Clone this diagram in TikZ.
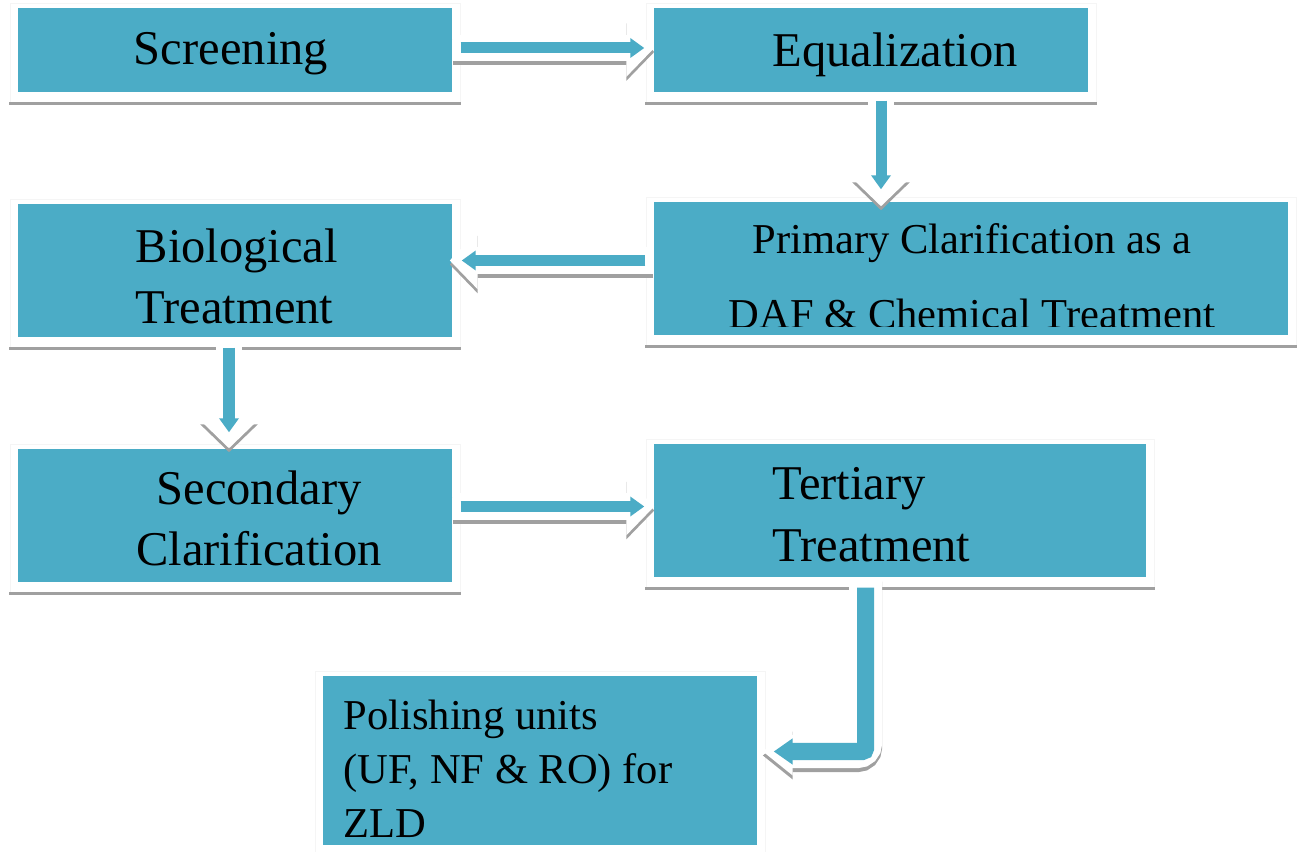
\documentclass[tikz,border=0pt]{standalone}
\usepackage{fontspec}
\setmainfont{Liberation Serif}
\usetikzlibrary{arrows.meta,positioning}

\newlength\px
\setlength\px{0.01cm}
\definecolor{boxteal}{RGB}{75,172,198}
\definecolor{shadegray}{RGB}{160,160,160}

\tikzset{
  stage/.style={fill=boxteal, inner sep=0pt},
  boxframe/.style={draw=black!4, line width=1\px},
  boxshadow/.style={draw=shadegray, line width=3.5\px},
  bigtxt/.style={inner sep=0pt, font=\fontsize{13.8}{17.4}\selectfont},
  smalltxt/.style={inner sep=0pt, font=\fontsize{12.1}{15.4}\selectfont},
  wideflow/.style={draw=white, line width=0.26cm, -{Triangle[length=0.28cm,width=0.56cm]}},
  wideshade/.style={wideflow, draw=shadegray, transform canvas={yshift=-0.04cm}},
  flow/.style={draw=boxteal, line width=0.11cm, -{Triangle[length=0.14cm,width=0.19cm]}},
  bendflow/.style={line width=0.33cm, rounded corners=0.08cm, -{Triangle[length=0.30cm,width=0.46cm]}},
}

\begin{document}
\begin{tikzpicture}[x=1\px, y=-1\px]
  \useasboundingbox (0,0) rectangle (1300,852);

  % the seven stages
  \node[stage, minimum width=434\px, minimum height=84\px] (scr) at (235,50) {};
  \node[stage, minimum width=434\px, minimum height=84\px] (equ) at (871,50) {};
  \node[stage, minimum width=634\px, minimum height=133\px] (pri) at (971,268.5) {};
  \node[stage, minimum width=434\px, minimum height=133\px] (bio) at (235,270.5) {};
  \node[stage, minimum width=434\px, minimum height=133\px] (sec) at (235,515.5) {};
  \node[stage, minimum width=492\px, minimum height=133\px] (ter) at (900,510.5) {};
  \node[stage, minimum width=434\px, minimum height=169\px] (pol) at (540,760.5) {};

  % white frame and grey line under each stage
  \foreach \b in {scr,equ,pri,bio,sec,ter,pol} {
    \draw[boxframe] ([shift={(-7,-4)}]\b.north west) rectangle ([shift={(8,10)}]\b.south east);
    \draw[boxshadow] ([shift={(-8,11)}]\b.south west) -- ([shift={(8,11)}]\b.south east);
  }

  % texts
  \node[bigtxt, anchor=north] (scr-t) at (231,32) {Screening};
  \node[bigtxt, anchor=north] (equ-t) at (895,32) {Equalization};
  \begin{scope}
    \clip (pri.north west) rectangle ([yshift=9\px]pri.south east);
    \node[smalltxt, font=\fontsize{12.1}{21.3}\selectfont, align=center, anchor=north] (pri-t) at (972,223)
      {Primary Clarification as a\\DAF \& Chemical Treatment};
  \end{scope}
  \node[bigtxt, align=left, anchor=north west] (bio-t) at (135,228) {Biological\\Treatment};
  \node[bigtxt, align=center, anchor=north] (sec-t) at (259,470) {Secondary\\Clarification};
  \node[bigtxt, align=left, anchor=north west] (ter-t) at (772,467) {Tertiary\\Treatment};
  \node[smalltxt, align=left, anchor=north west] (pol-t) at (343,699) {Polishing units\\(UF, NF \& RO) for\\ZLD};

  % end points of the flows
  \coordinate (a1) at ([yshift=2\px]scr.east);
  \coordinate (a1e) at ([xshift=1\px]a1 -| equ.west);
  \coordinate (a2) at ([xshift=10\px]equ.south);
  \coordinate (a2e) at ([yshift=-5\px]a2 |- pri.north);
  \coordinate (a3) at ([yshift=8\px]pri.west);
  \coordinate (a3e) at ([xshift=-3\px]a3 -| bio.east);
  \coordinate (a4) at ([xshift=-6\px]bio.south);
  \coordinate (a4e) at (a4 |- sec.north);
  \coordinate (a5) at ([yshift=9\px]sec.east);
  \coordinate (a5e) at ([xshift=1\px]a5 -| ter.west);
  \coordinate (a6) at ([xshift=-34.5\px]ter.south);
  \coordinate (a6e) at ([shift={(5,-9)}]pol.east);

  % white arrows with grey shadow
  \foreach \s/\e in {a1/a1e,a2/a2e,a3/a3e,a4/a4e,a5/a5e} {
    \draw[wideshade] (\s) -- (\e);
    \draw[wideflow] (\s) -- (\e);
  }
  \draw[wideshade, bendflow] (a6) |- (a6e);
  \draw[wideflow, bendflow] (a6) |- (a6e);

  % teal arrows
  \draw[flow, shorten <=8\px, shorten >=10\px] (a1) -- (a1e);
  \draw[flow, shorten <=8\px, shorten >=17\px] (a2) -- (a2e);
  \draw[flow, shorten <=8\px, shorten >=12\px] (a3) -- (a3e);
  \draw[flow, shorten <=10\px, shorten >=16\px] (a4) -- (a4e);
  \draw[flow, shorten <=8\px, shorten >=10\px] (a5) -- (a5e);
  \draw[flow, line width=0.17cm, rounded corners=0.03cm, shorten <=10\px, shorten >=11\px,
    -{Triangle[length=0.19cm,width=0.25cm]}] (a6) |- (a6e);
\end{tikzpicture}
\end{document}
